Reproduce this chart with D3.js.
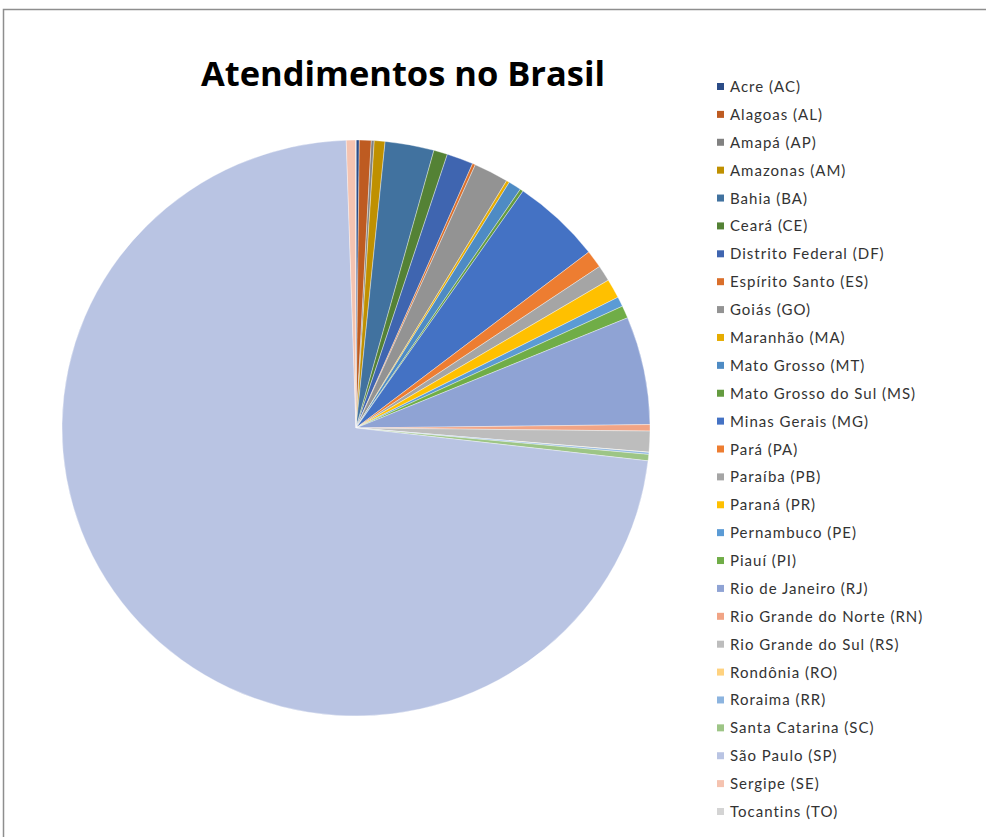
<!DOCTYPE html>
<html>
<head>
<meta charset="utf-8">
<script src="https://cdn.jsdelivr.net/npm/d3@7"></script>
<style>
  body { margin: 0; background: #fff; }
  svg { display: block; }
</style>
</head>
<body>
<div id="chart"></div>
<script>
// dados do grafico
let estados = ["Acre (AC)", "Alagoas (AL)", "Amapá (AP)", "Amazonas (AM)", "Bahia (BA)",
  "Ceará (CE)", "Distrito Federal (DF)", "Espírito Santo (ES)", "Goiás (GO)", "Maranhão (MA)",
  "Mato Grosso (MT)", "Mato Grosso do Sul (MS)", "Minas Gerais (MG)", "Pará (PA)", "Paraíba (PB)",
  "Paraná (PR)", "Pernambuco (PE)", "Piauí (PI)", "Rio de Janeiro (RJ)", "Rio Grande do Norte (RN)",
  "Rio Grande do Sul (RS)", "Rondônia (RO)", "Roraima (RR)", "Santa Catarina (SC)", "São Paulo (SP)",
  "Sergipe (SE)", "Tocantins (TO)"];
let atendimentos = [18, 65, 16, 59, 269, 76, 146, 16, 191, 17, 71, 18, 492, 99, 89, 108, 55, 70,
  606, 36, 117, 1, 11, 36, 7265, 52, 1];
let cores = ["#2B4C87", "#BE5B21", "#818181", "#BF9000", "#41729F", "#548235",
  "#3F65B0", "#DA6F2B", "#939393", "#E6AC00", "#4E8BC4", "#649B3F",
  "#4472C4", "#ED7D31", "#A5A5A5", "#FFC000", "#5B9BD5", "#70AD47",
  "#8FA3D4", "#F1A485", "#BDBDBD", "#FFD27F", "#8CB4DF", "#9DC586",
  "#B9C4E3", "#F5C3B0", "#D4D4D4"];
let titulo = "Atendimentos no Brasil";

let config = { width: 986, height: 837 };
config.cx = 356;
config.cy = 428;
config.r = 288;
config.sx = 294 / 288; // pizza levemente achatada como na figura

let svg = d3.select("#chart").append("svg")
  .attr("width", config.width)
  .attr("height", config.height);

// moldura do grafico
svg.append("rect")
  .attr("x", 3.5).attr("y", 9.5)
  .attr("width", 1000).attr("height", 900)
  .attr("fill", "none")
  .attr("stroke", "#8E8E8E")
  .attr("stroke-width", 1.5);

svg.append("text")
  .attr("x", 403).attr("y", 86)
  .attr("text-anchor", "middle")
  .style("font-family", "'Open Sans', 'Noto Sans', sans-serif")
  .style("font-weight", "bold")
  .style("font-size", "34px")
  .attr("textLength", 404)
  .attr("lengthAdjust", "spacingAndGlyphs")
  .attr("fill", "#000")
  .text(titulo);

let dados = estados.map((e, i) => ({ nome: e, valor: atendimentos[i], cor: cores[i] }));

let pie = d3.pie().sort(null).value(d => d.valor);
let arc = d3.arc().innerRadius(0).outerRadius(config.r);

let g = svg.append("g")
  .attr("transform", "translate(" + config.cx + "," + config.cy + ") scale(" + config.sx + ",1)");

g.selectAll("path")
  .data(pie(dados))
  .enter()
  .append("path")
  .attr("d", arc)
  .attr("fill", d => d.data.cor)
  .attr("stroke", "#fff")
  .attr("stroke-width", 0.6)
  .attr("stroke-opacity", 0.6);

// legenda
let yLeg = d3.scalePoint().domain(estados).range([87, 812]);
let leg = svg.selectAll(".leg")
  .data(dados)
  .enter()
  .append("g")
  .attr("class", "leg")
  .attr("transform", d => "translate(717," + yLeg(d.nome) + ")");

leg.append("rect")
  .attr("x", 0).attr("y", -4)
  .attr("width", 7).attr("height", 7)
  .attr("fill", d => d.cor);

leg.append("text")
  .attr("x", 13).attr("y", 5)
  .style("font-family", "Lato, 'Noto Sans', sans-serif")
  .style("font-size", "15px")
  .style("letter-spacing", "1px")
  .attr("fill", "#333")
  .text(d => d.nome);
</script>
</body>
</html>
